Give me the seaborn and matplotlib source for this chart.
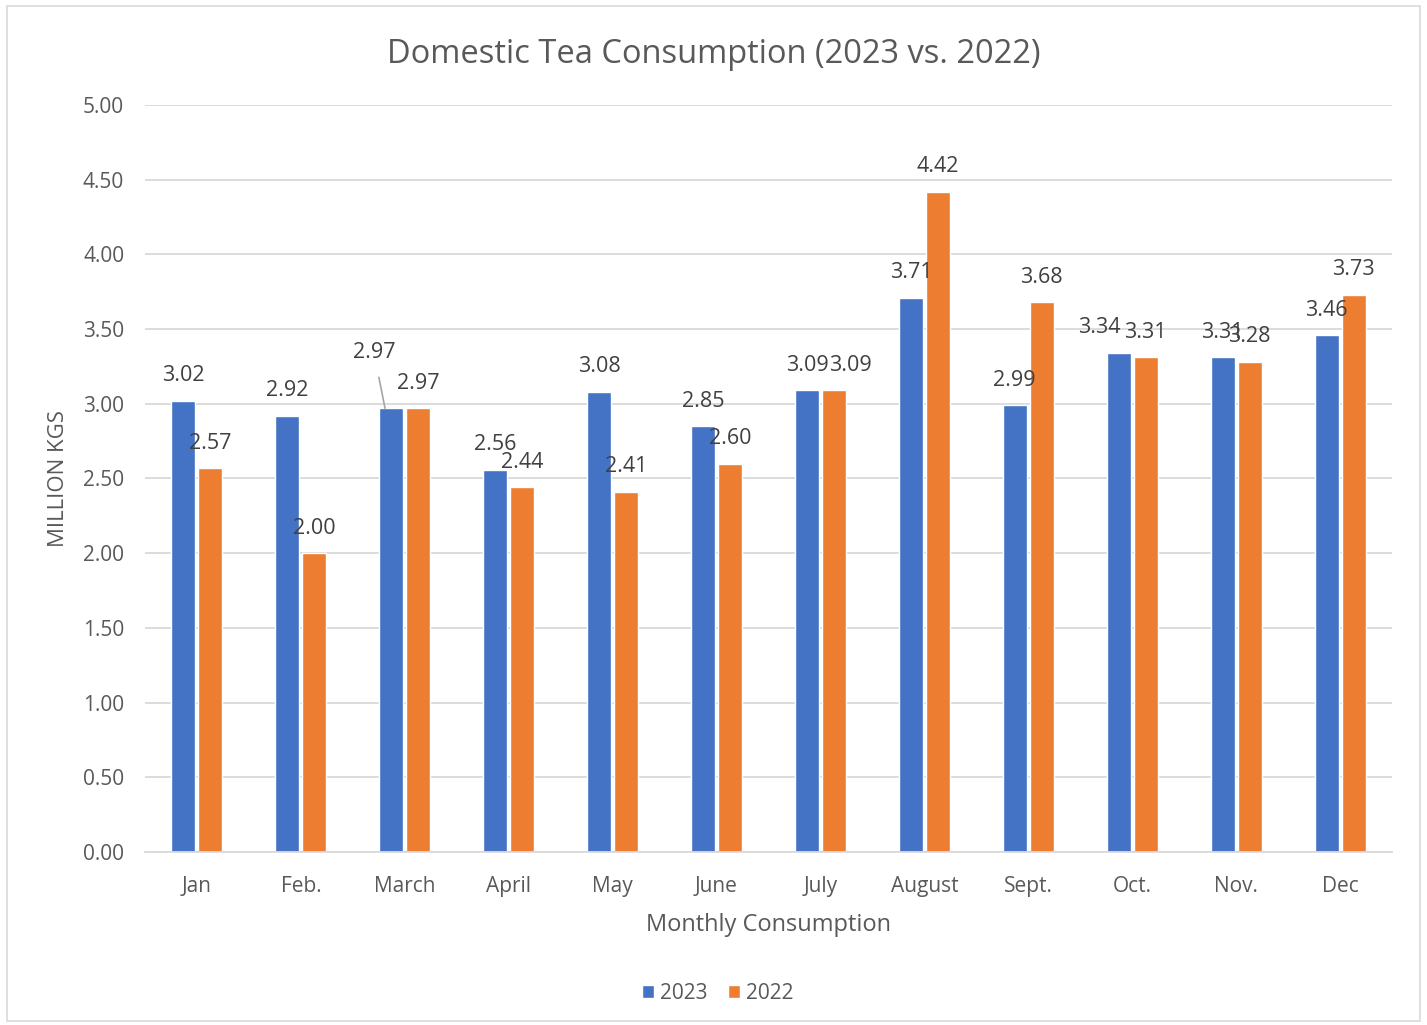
import matplotlib
matplotlib.use("Agg")
import matplotlib.pyplot as plt
import seaborn as sns
import pandas as pd

months = ["Jan", "Feb.", "March", "April", "May", "June", "July", "August",
          "Sept.", "Oct.", "Nov.", "Dec"]
values_2023 = [3.02, 2.92, 2.97, 2.56, 3.08, 2.85, 3.09, 3.71, 2.99, 3.34, 3.31, 3.46]
values_2022 = [2.57, 2.00, 2.97, 2.44, 2.41, 2.60, 3.09, 4.42, 3.68, 3.31, 3.28, 3.73]
series = ["2023", "2022"]
colors = ["#4472C4", "#ED7D31"]

df = pd.DataFrame({
    "Month": months * 2,
    "Value": values_2023 + values_2022,
    "Year": [series[0]] * len(months) + [series[1]] * len(months),
})

sns.set_theme(style="white")
plt.rcParams['font.family'] = ['Open Sans', 'DejaVu Sans']

fig = plt.figure(figsize=(14.27, 10.25), dpi=100)
ax = fig.add_axes([0.1016, 0.1688, 0.8739, 0.7288])

sns.barplot(data=df, x="Month", y="Value", hue="Year", hue_order=series,
            palette=colors, width=0.52, gap=0.11, ax=ax, legend=True,
            saturation=1, edgecolor="white", linewidth=1)

ax.set_ylim(0, 5.0)
ax.set_xlim(-0.5, 11.5)
yt = [i * 0.5 for i in range(11)]
ax.set_yticks(yt)
ax.set_yticklabels([f"{v:.2f}" for v in yt], color="#595959", fontsize=15)
ax.tick_params(axis="x", colors="#595959", labelsize=15, pad=17, length=0)
ax.tick_params(axis="y", length=0, pad=15)
ax.yaxis.grid(True, color="#D9D9D9", linewidth=1.3)
ax.set_axisbelow(True)
for s in ["top", "right", "left"]:
    ax.spines[s].set_visible(False)
ax.spines["bottom"].set_color("#D9D9D9")
ax.spines["bottom"].set_linewidth(1.3)

ax.set_xlabel("Monthly Consumption", color="#595959", fontsize=17, labelpad=12)
ax.set_ylabel("MILLION KGS", color="#595959", fontsize=16, labelpad=10)
fig.text(0.5, 0.947, "Domestic Tea Consumption (2023 vs. 2022)", color="#595959",
         fontsize=23.5, ha="center", va="center")

# small label nudges (in points) where labels collide, like the original
nudges = {(1, "July"): (12, 0), (0, "Oct."): (-14, 0)}

for ci, cont in enumerate(ax.containers):
    for bi, bar in enumerate(cont):
        h = bar.get_height()
        cx = bar.get_x() + bar.get_width() / 2
        if ci == 0 and months[bi] == "March":
            ax.annotate(f"{h:.2f}", xy=(cx - 0.06, h), xytext=(-8, 40),
                        textcoords="offset points", ha="center", va="center",
                        fontsize=15.5, color="#404040",
                        arrowprops=dict(arrowstyle="-", color="#A6A6A6",
                                        lw=1.2, shrinkA=8, shrinkB=0))
        else:
            dx, dy = nudges.get((ci, months[bi]), (0, 0))
            ax.annotate(f"{h:.2f}", xy=(cx, h), xytext=(dx, 18 + dy),
                        textcoords="offset points", ha="center", va="center",
                        fontsize=15.5, color="#404040")

handles, labels = ax.get_legend_handles_labels()
ax.get_legend().remove()
leg = fig.legend(handles, labels, loc="center", bbox_to_anchor=(0.503, 0.031),
                 ncol=2, frameon=False, fontsize=15, handlelength=0.55,
                 handleheight=0.55, handletextpad=0.3, columnspacing=1.0)
for t in leg.get_texts():
    t.set_color("#595959")

# outer frame
fig.patches.append(matplotlib.patches.Rectangle(
    (0.005, 0.004), 0.99, 0.99, transform=fig.transFigure, fill=False,
    edgecolor="#D9D9D9", linewidth=1.2))

fig.savefig("out.png", dpi=100, facecolor="white")
